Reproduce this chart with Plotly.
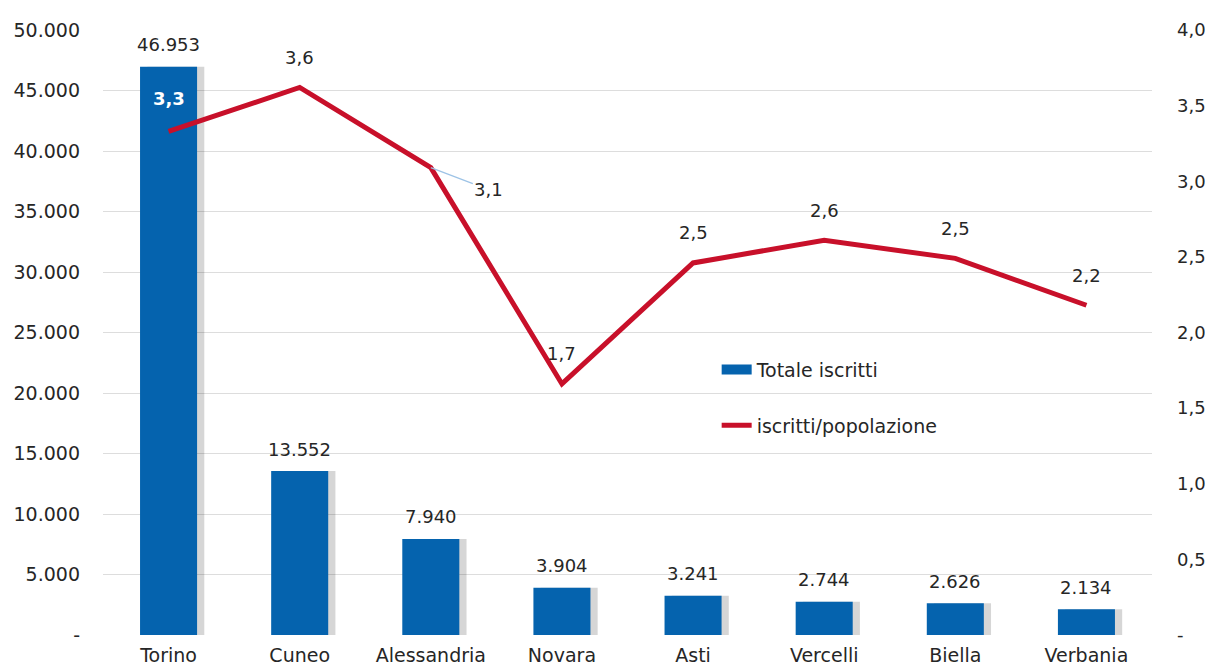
import plotly.graph_objects as go

PROVINCE = ["Torino", "Cuneo", "Alessandria", "Novara", "Asti", "Vercelli", "Biella", "Verbania"]
TOTALE_ISCRITTI = [46953, 13552, 7940, 3904, 3241, 2744, 2626, 2134]
ISCRITTI_POP = [3.33, 3.62, 3.09, 1.66, 2.46, 2.61, 2.49, 2.18]

LEFT_TICKS = [0, 5000, 10000, 15000, 20000, 25000, 30000, 35000, 40000, 45000, 50000]
RIGHT_TICKS = [0, 0.5, 1.0, 1.5, 2.0, 2.5, 3.0, 3.5, 4.0]

BLUE = "#0563AE"
RED = "#C8102A"
TXT = "#262626"
FONT = "DejaVu Sans"


def it_int(v):
    return "-" if v == 0 else f"{v:,.0f}".replace(",", ".")


def it_dec(v):
    return "-" if v == 0 else f"{v:.1f}".replace(".", ",")


fig = go.Figure()

# soft shadow behind the bars
fig.add_trace(go.Bar(
    x=PROVINCE, y=TOTALE_ISCRITTI,
    width=0.435, offset=-0.2175 + 0.055,
    marker=dict(color="rgba(0,0,0,0.16)", line=dict(width=0)),
    showlegend=False, hoverinfo="skip",
))

fig.add_trace(go.Bar(
    x=PROVINCE, y=TOTALE_ISCRITTI,
    name="Totale iscritti",
    width=0.435, offset=-0.2175,
    marker=dict(color=BLUE, line=dict(width=0)),
    showlegend=False,
))

# legend proxy so the bar swatch is a wide block like the original
fig.add_trace(go.Scatter(
    x=[None], y=[None], mode="lines", name="Totale iscritti",
    line=dict(color=BLUE, width=11), legendgroup="a",
))

fig.add_trace(go.Scatter(
    x=PROVINCE, y=ISCRITTI_POP,
    name="iscritti/popolazione",
    yaxis="y2",
    mode="lines",
    line=dict(color=RED, width=5),
    legendgroup="b",
))

# bar value labels
for p, v in zip(PROVINCE, TOTALE_ISCRITTI):
    fig.add_annotation(
        x=p, y=v, xref="x", yref="y", text=it_int(v),
        showarrow=False, yshift=22,
        font=dict(family=FONT, size=18, color=TXT),
    )

# line value labels
for i, (p, v) in enumerate(zip(PROVINCE, ISCRITTI_POP)):
    if p == "Alessandria":
        fig.add_annotation(
            x=p, y=v, xref="x", yref="y2", text=it_dec(v),
            showarrow=True, arrowhead=0, arrowwidth=1.2, arrowcolor="#9DC3E6",
            ax=58, ay=22, standoff=0,
            font=dict(family=FONT, size=18, color=TXT),
        )
    elif i == 0:
        fig.add_annotation(
            x=p, y=v, xref="x", yref="y2", text="<b>" + it_dec(v) + "</b>",
            showarrow=False, yshift=33,
            font=dict(family=FONT, size=18, color="white"),
        )
    else:
        fig.add_annotation(
            x=p, y=v, xref="x", yref="y2", text=it_dec(v),
            showarrow=False, yshift=30,
            font=dict(family=FONT, size=18, color=TXT),
        )

# page body has an 8px margin, so the figure is sized to the visible area
fig.update_layout(
    width=1205, height=663,
    paper_bgcolor="white", plot_bgcolor="white",
    margin=dict(l=95, r=61, t=22, b=36),
    barmode="overlay",
    font=dict(family=FONT, size=18, color=TXT),
    xaxis=dict(
        showgrid=False, showline=False, zeroline=False, automargin=False,
        tickfont=dict(size=19), ticklabelstandoff=7,
    ),
    yaxis=dict(
        range=[0, 50000], automargin=False,
        tickvals=LEFT_TICKS, ticktext=[it_int(v) for v in LEFT_TICKS],
        showgrid=True, gridcolor="#DDDDDD", gridwidth=1,
        zeroline=False, showline=False,
        tickfont=dict(size=19),
        ticklabelstandoff=22,
    ),
    yaxis2=dict(
        range=[0, 4.0], overlaying="y", side="right", automargin=False,
        tickvals=RIGHT_TICKS, ticktext=[it_dec(v) for v in RIGHT_TICKS],
        showgrid=False, zeroline=False, showline=False,
        tickfont=dict(size=18),
        ticklabelstandoff=24,
    ),
    legend=dict(
        x=0.585, y=0.47, xanchor="left", yanchor="top",
        bgcolor="rgba(0,0,0,0)",
        font=dict(size=19, color=TXT),
        traceorder="grouped", tracegroupgap=28,
    ),
)

fig.write_html("out.html")
